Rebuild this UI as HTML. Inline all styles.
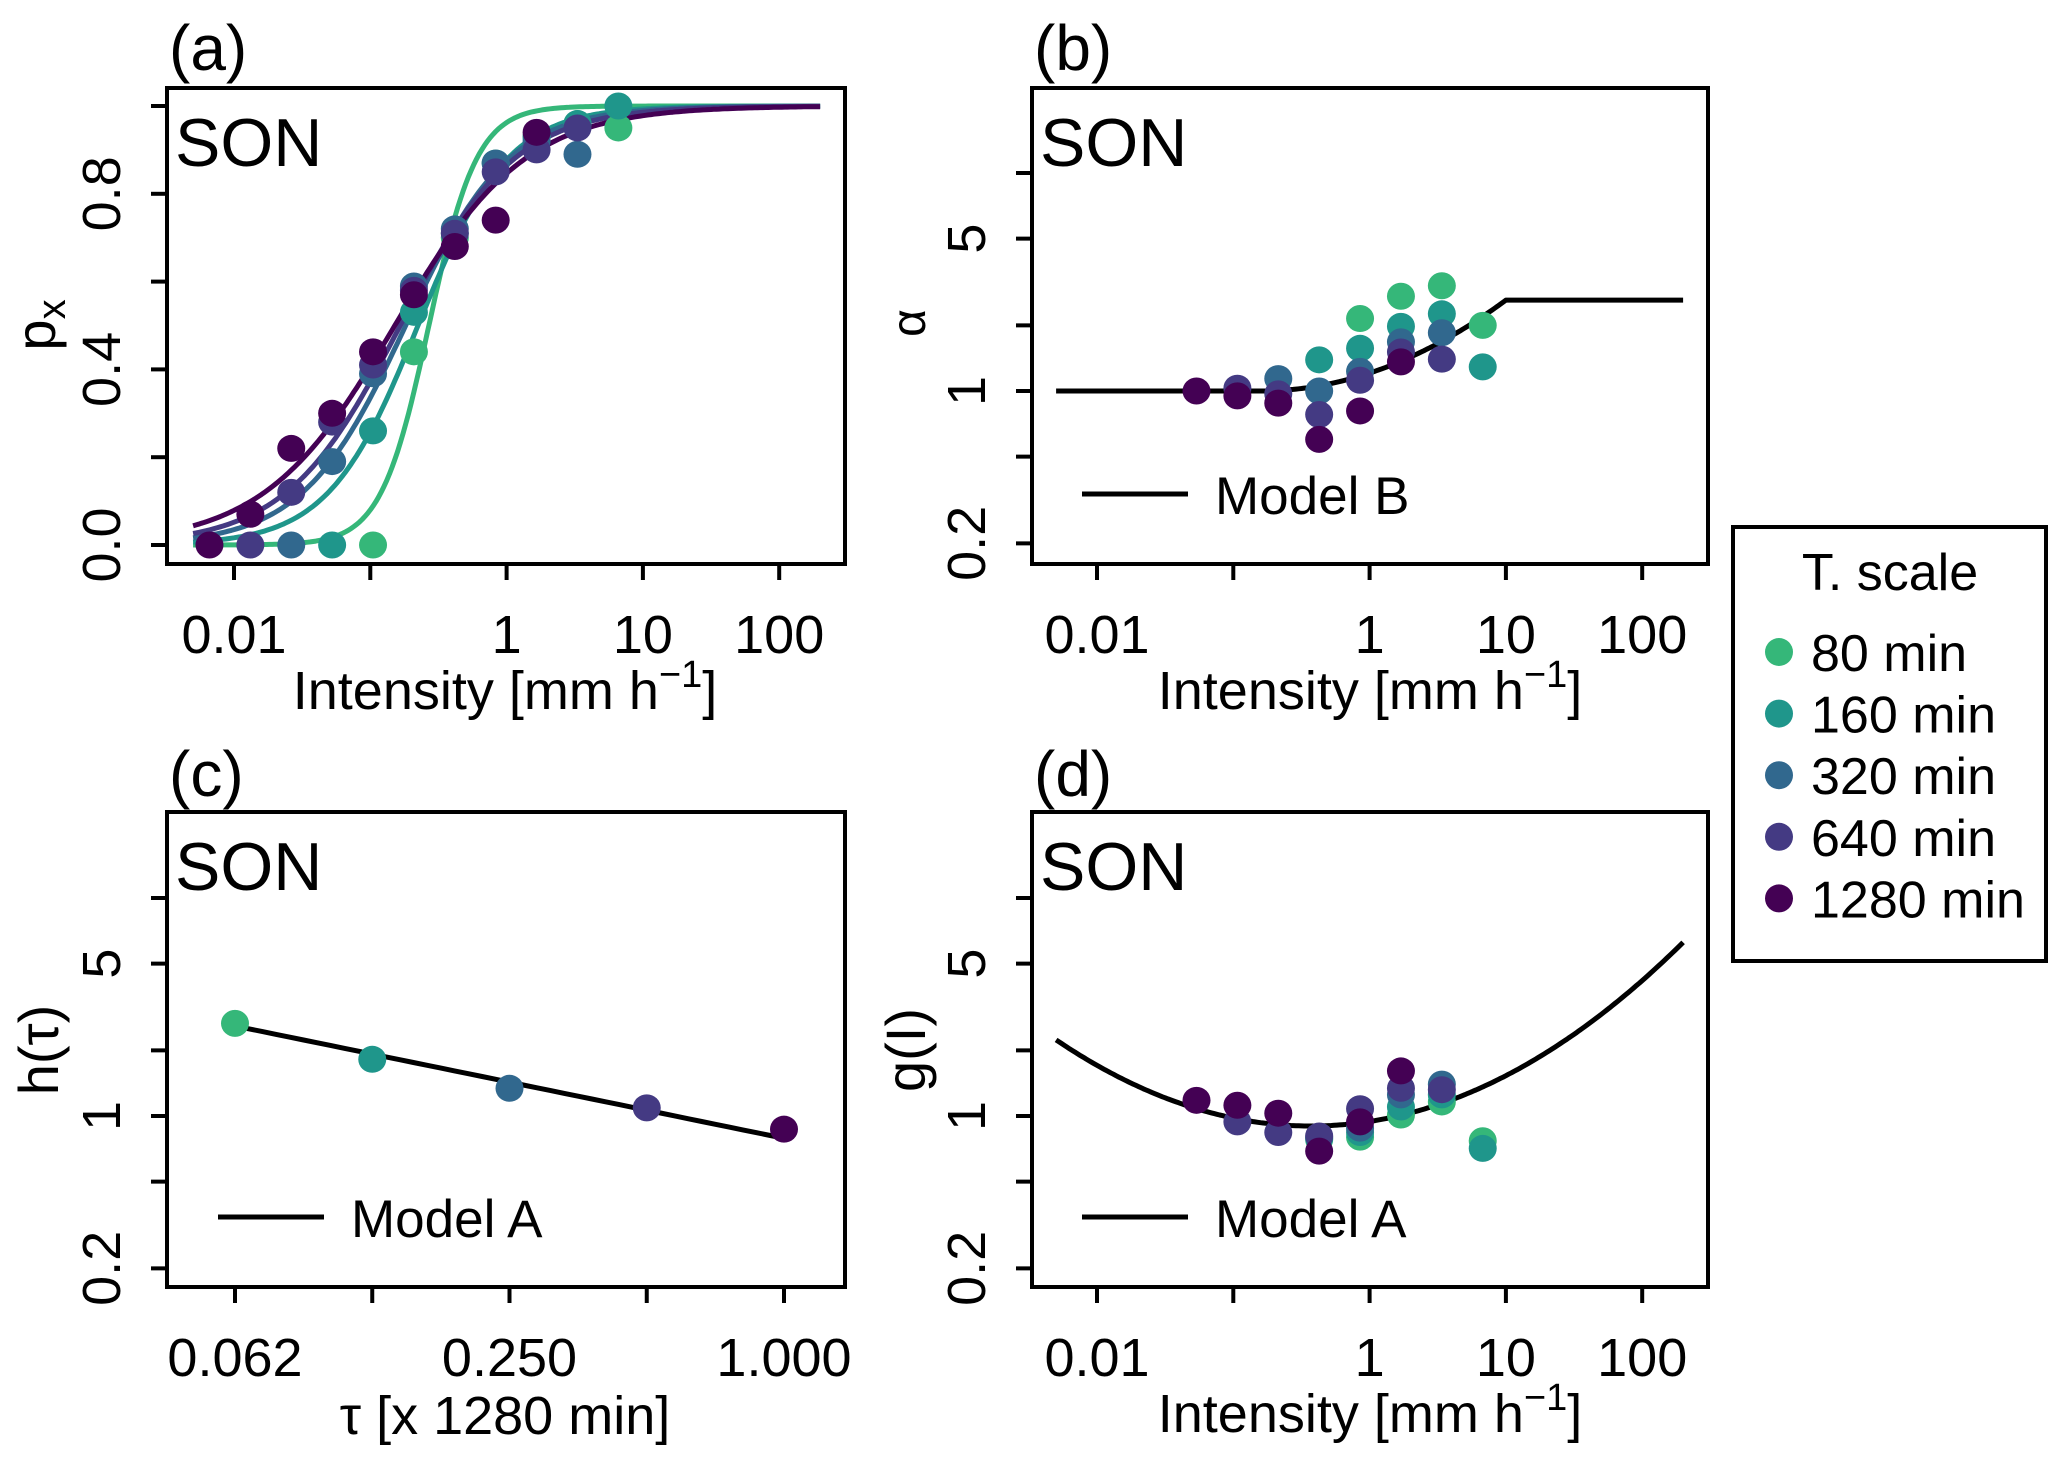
<!DOCTYPE html>
<html><head><meta charset="utf-8"><style>
html,body{margin:0;padding:0;background:#fff;}
svg{display:block;font-family:"Liberation Sans",sans-serif;}
</style></head><body>
<svg id="fig" width="2067" height="1457" viewBox="0 0 2067 1457" xmlns="http://www.w3.org/2000/svg"></svg>
<script>
// ---- data ----
const seriesNames = ["80 min","160 min","320 min","640 min","1280 min"];
const seriesColors = ["#35b779","#1f968b","#31688e","#443a83","#440154"];
// panel (a): bins log10 I = -2.18 + 0.3k
const aStartK = [4,3,2,1,0];
const aP80 = [0.00,0.44,0.70,0.87,0.93,0.96,0.95];
const aP160 = [0.00,0.26,0.53,0.71,0.87,0.93,0.96,1.00];
const aP320 = [0.00,0.19,0.39,0.59,0.72,0.87,0.92,0.89];
const aP640 = [0.00,0.12,0.28,0.41,0.58,0.71,0.85,0.90,0.95];
const aP1280 = [0.00,0.07,0.22,0.30,0.44,0.57,0.68,0.74,0.94];
const aMu = [-0.57,-0.65,-0.74,-0.78,-0.82];
const aScale = [0.176,0.33,0.38,0.42,0.48];
// panel (b): bins log10 I = -1.27 + 0.3k
const bStartK = [4,3,2,1,0];
const bA80 = [2.15,2.72,3.04,2.0];
const bA160 = [1.39,1.57,1.98,2.26,1.29];
const bA320 = [1.14,1.0,1.23,1.68,1.85];
const bA640 = [1.03,0.97,0.78,1.12,1.51,1.40];
const bA1280 = [1.0,0.95,0.88,0.60,0.81,1.36];
// panel (c)
const cTau = [0.0625,0.125,0.25,0.5,1.0];
const cH = [2.66,1.82,1.34,1.09,0.87];
const cModelCoef = 0.79, cModelExp = -0.428;
// panel (d)
const dStartK = [3,3,3,1,0];
const dG80 = [0.78,0.80,1.01,1.16,0.77];
const dG160 = [0.79,0.84,1.10,1.25,0.71];
const dG320 = [0.80,0.88,1.25,1.40];
const dG640 = [0.94,0.84,0.81,1.08,1.34,1.32];
const dG1280 = [1.18,1.12,1.03,0.69,0.94,1.61];
const dModelMin = -0.046, dModelCenter = -0.43, dModelK = 0.113;
// model B params
const bModelStart = -0.8, bModelKink = 1.0, bModelTop = 0.417;
// ticks
const intensityTicks = [0.01,0.1,1,10,100];
const intensityLabels = ["0.01","","1","10","100"];
const pTicks = [0,0.2,0.4,0.6,0.8,1.0];
const pLabels = ["0.0","","0.4","","0.8",""];
const logTicks = [0.2,0.5,1,2,5,10];
const logLabels = ["0.2","","1","","5",""];
const tauTicks = [0.0625,0.125,0.25,0.5,1.0];
const tauLabels = ["0.062","","0.250","","1.000"];

const aVals=[aP80,aP160,aP320,aP640,aP1280];
const bVals=[bA80,bA160,bA320,bA640,bA1280];
const dVals=[dG80,dG160,dG320,dG640,dG1280];

const NS="http://www.w3.org/2000/svg";
const svg=document.getElementById('fig');
function el(tag,attrs,parent,txt){const e=document.createElementNS(NS,tag);for(const k in attrs)e.setAttribute(k,attrs[k]);if(txt!==undefined)e.textContent=txt;(parent||svg).appendChild(e);return e;}

const L10=Math.log10;
const xa=I=>234+136.3*(L10(I)+2);
const xb=I=>1097+136.3*(L10(I)+2);
const ya=p=>545-439*p;
const yb=v=>391-218*L10(v);
const yc=v=>1116-218*L10(v);
const xc=t=>235+(784-235)/4*(Math.log2(t)+4);

function panel(name){
  const g=el('g',{}, svg);
  
  
  return g;
}
function box(g,x0,y0,x1,y1){const r=el('rect',{x:x0,y:y0,width:x1-x0,height:y1-y0,fill:'none',stroke:'#000','stroke-width':4},g);

}
function xTicks(g,vals,labels,fx,yb0,name){
  const ax=el('g',{},g);
  
  
  vals.forEach((v,i)=>{const x=fx(v);el('line',{x1:x,y1:yb0,x2:x,y2:yb0+16,stroke:'#000','stroke-width':4},ax);
    if(labels[i]){const t=el('text',{x:x,y:yb0+89,'font-size':54,'text-anchor':'middle'},ax,labels[i]);
    
    }});
}
function yTicks(g,vals,labels,fy,xl,name){
  const ax=el('g',{},g);
  
  
  vals.forEach((v,i)=>{const y=fy(v);el('line',{x1:xl,y1:y,x2:xl-16,y2:y,stroke:'#000','stroke-width':4},ax);
    if(labels[i]){const t=el('text',{x:xl-47,y:y,'font-size':54,'text-anchor':'middle',transform:`rotate(-90 ${xl-47} ${y})`},ax,labels[i]);
    
    }});
}
function txt(g,x,y,s,size,name,anchor){const t=el('text',{x:x,y:y,'font-size':size,'text-anchor':anchor||'start'},g,s);


return t;}
function dot(g,x,y,c){const d=el('ellipse',{cx:x,cy:y,rx:14,ry:13.5,fill:c},g);

}
function path(g,pts,c,w,name){const d=el('path',{d:'M'+pts.map(p=>p[0].toFixed(1)+','+p[1].toFixed(1)).join('L'),fill:'none',stroke:c,'stroke-width':w||5,'stroke-linejoin':'round'},g);

}
function intensityTitle(g,cx,y){const t=el('text',{x:cx,y:y,'font-size':54,'text-anchor':'middle'},g);


  el('tspan',{},t,'Intensity [mm h');el('tspan',{dy:-22,'font-size':38},t,'−1');el('tspan',{dy:22},t,']');}

// ---- panel a ----
let g=panel('panel-a');
txt(g,169,70,'(a)',64,'panel-label');
box(g,167,88,845,564);
xTicks(g,intensityTicks,intensityLabels,xa,564,'x-axis');
yTicks(g,pTicks,pLabels,ya,167,'y-axis');
{const t=el('text',{x:55,y:325,'font-size':56,'text-anchor':'middle',transform:'rotate(-90 55 325)'},g);


el('tspan',{},t,'p');el('tspan',{dy:10,'font-size':40},t,'x');}
intensityTitle(g,505,709);
txt(g,175,166,'SON',68,'season-label');
for(let s=0;s<5;s++){const pts=[];for(let l=-2.3;l<=2.301;l+=0.02){const p=1/(1+Math.exp(-(l-aMu[s])/aScale[s]));pts.push([xa(Math.pow(10,l)),ya(p)]);}path(g,pts,seriesColors[s],5,'fit-curve-'+seriesNames[s].replace(' ','-'));}
for(let s=0;s<5;s++){aVals[s].forEach((p,i)=>{const k=aStartK[s]+i;dot(g,xa(Math.pow(10,-2.18+0.3*k)),ya(p),seriesColors[s]);});}

// ---- panel b ----
g=panel('panel-b');
txt(g,1034,70,'(b)',64,'panel-label');
box(g,1032,88,1708,564);
xTicks(g,intensityTicks,intensityLabels,xb,564,'x-axis');
yTicks(g,logTicks,logLabels,yb,1032,'y-axis');
{const t=el('text',{x:925,y:323,'font-size':48,'text-anchor':'middle',transform:'rotate(-90 925 323)'},g,'α');

}
intensityTitle(g,1370,709);
txt(g,1040,166,'SON',68,'season-label');
{const pts=[];for(let l=-2.3;l<=2.301;l+=0.02){let la=0;if(l>bModelStart){const xx=Math.min(l,bModelKink)-bModelStart;la=bModelTop*Math.pow(xx/(bModelKink-bModelStart),2);}pts.push([xb(Math.pow(10,l)),yb(Math.pow(10,la))]);}path(g,pts,'#000',5,'model-b-line');}
for(let s=0;s<5;s++){bVals[s].forEach((v,i)=>{const k=bStartK[s]+i;dot(g,xb(Math.pow(10,-1.27+0.3*k)),yb(v),seriesColors[s]);});}
{const lg=el('g',{},g);


el('line',{x1:1082,y1:494,x2:1188,y2:494,stroke:'#000','stroke-width':5},lg);txt(lg,1215,514,'Model B',53,'legend-label');}

// ---- panel c ----
g=panel('panel-c');
txt(g,169,796,'(c)',64,'panel-label');
box(g,167,812,845,1287);
xTicks(g,tauTicks,tauLabels,xc,1287,'x-axis');
yTicks(g,logTicks,logLabels,yc,167,'y-axis');
{const t=el('text',{x:58,y:1050,'font-size':56,'text-anchor':'middle',transform:'rotate(-90 58 1050)'},g,'h(τ)');

}
txt(g,505,1434,'τ [x 1280 min]',54,'x-axis-title','middle');
txt(g,175,890,'SON',68,'season-label');
{const pts=[];for(let l=-4;l<=0.001;l+=0.1){const t=Math.pow(2,l);pts.push([xc(t),yc(cModelCoef*Math.pow(t,cModelExp))]);}path(g,pts,'#000',5,'model-a-line');}
cTau.forEach((t,i)=>dot(g,xc(t),yc(cH[i]),seriesColors[i]));
{const lg=el('g',{},g);


el('line',{x1:218,y1:1217,x2:324,y2:1217,stroke:'#000','stroke-width':5},lg);txt(lg,351,1237,'Model A',53,'legend-label');}

// ---- panel d ----
g=panel('panel-d');
txt(g,1034,796,'(d)',64,'panel-label');
box(g,1032,812,1708,1287);
xTicks(g,intensityTicks,intensityLabels,xb,1287,'x-axis');
yTicks(g,logTicks,logLabels,yc,1032,'y-axis');
{const t=el('text',{x:925,y:1050,'font-size':56,'text-anchor':'middle',transform:'rotate(-90 925 1050)'},g,'g(I)');

}
intensityTitle(g,1370,1432);
txt(g,1040,890,'SON',68,'season-label');
{const pts=[];for(let l=-2.3;l<=2.301;l+=0.02){const lg=dModelMin+dModelK*Math.pow(l-dModelCenter,2);pts.push([xb(Math.pow(10,l)),yc(Math.pow(10,lg))]);}path(g,pts,'#000',5,'model-a-line');}
for(let s=0;s<5;s++){dVals[s].forEach((v,i)=>{const k=dStartK[s]+i;dot(g,xb(Math.pow(10,-1.27+0.3*k)),yc(v),seriesColors[s]);});}
{const lg=el('g',{},g);


el('line',{x1:1082,y1:1217,x2:1188,y2:1217,stroke:'#000','stroke-width':5},lg);txt(lg,1215,1237,'Model A',53,'legend-label');}

// ---- series legend ----
g=el('g',{},svg);


{const r=el('rect',{x:1733,y:527,width:313,height:434,fill:'none',stroke:'#000','stroke-width':4},g);

}
txt(g,1890,590,'T. scale',52,'legend-title','middle');
seriesNames.forEach((n,i)=>{const e=el('g',{},g);
  
  
  const y=652+61.6*i;const c=el('circle',{cx:1779,cy:y,r:14,fill:seriesColors[i]},e);
  
  
  txt(e,1811,y+19,n,52,'legend-label');});
</script>
</body></html>
